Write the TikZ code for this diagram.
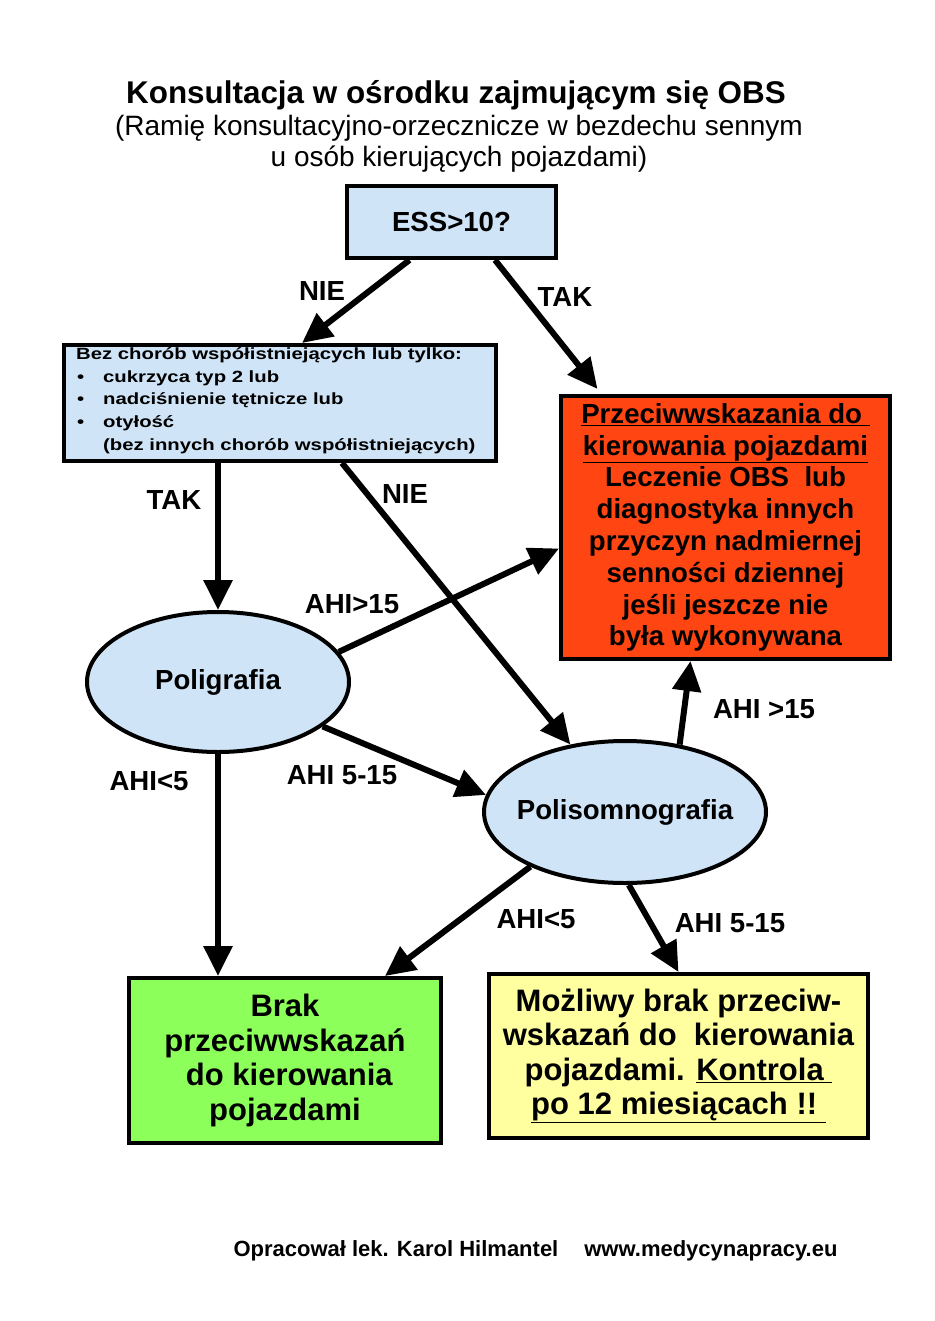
\documentclass[tikz,border=0pt]{standalone}
\usepackage{fontspec}
\setmainfont{Liberation Sans}
\usetikzlibrary{shapes.geometric,arrows.meta}
\definecolor{lblue}{RGB}{207,228,246}
\definecolor{lred}{RGB}{255,69,18}
\definecolor{lgreen}{RGB}{140,255,90}
\definecolor{lyellow}{RGB}{255,255,160}
\tikzset{
  box/.style={draw=black,line width=4pt,inner sep=0pt,align=center,font=\bfseries},
  oval/.style={draw=black,line width=4pt,ellipse,inner sep=0pt,fill=lblue},
  ovaltext/.style={inner sep=0pt,font=\bfseries\fontsize{27.6}{32}\selectfont},
  arr/.style={line width=6pt,-{Triangle[length=30pt,width=28pt]}},
  lab/.style={font=\bfseries\fontsize{27.6}{32}\selectfont,inner sep=0pt}
}
\begin{document}
\begin{tikzpicture}[x=1pt,y=-1pt]
\useasboundingbox[fill=white] (0,0) rectangle (934,1321);
% title
\node[font=\bfseries\fontsize{31.4}{36}\selectfont,inner sep=0pt] (title) at (456,95) {Konsultacja w ośrodku zajmującym się OBS};
\node[font=\fontsize{28}{31}\selectfont,inner sep=0pt,align=center] (sub) at (459,144) {(Ramię konsultacyjno-orzecznicze w bezdechu sennym\\u osób kierujących pojazdami)};
% boxes
\node[box,fill=lblue,minimum width=209pt,minimum height=72pt,font=\bfseries\fontsize{27.6}{32}\selectfont] (ess) at (451.5,222) {ESS>10?};
\node[box,fill=lblue,minimum width=432pt,minimum height=116pt,anchor=north west] (b2) at (62,343) {};
\node[inner sep=0pt,anchor=west] (b2t) at (76,400.5) {\scalebox{1}[0.8]{\parbox{420pt}{\bfseries\fontsize{20.3}{28.4}\selectfont Bez chorób współistniejących lub tylko:\\
\makebox[27pt][l]{\hspace{1pt}•}cukrzyca typ 2 lub\\
\makebox[27pt][l]{\hspace{1pt}•}nadciśnienie tętnicze lub\\
\makebox[27pt][l]{\hspace{1pt}•}otyłość\\
\hspace*{27pt}(bez innych chorób współistniejących)}}};
\node[box,fill=lred,minimum width=329pt,minimum height=263pt,font=\bfseries\fontsize{27.6}{31.8}\selectfont] (red) at (725.5,527.5) {\underline{Przeciwwskazania do\ }\\\underline{kierowania pojazdami}\\Leczenie OBS\ \ lub\\diagnostyka innych\\przyczyn nadmiernej\\senności dziennej\\jeśli jeszcze nie\\była wykonywana};
\node[oval,minimum width=262pt,minimum height=140pt] (poli) at (218,682) {};
\node[ovaltext] (polit) at (poli.center) {Poligrafia};
\node[oval,minimum width=282pt,minimum height=142pt] (psg) at (625,812) {};
\node[ovaltext] (psgt) at (psg.center) {Polisomnografia};
\node[box,fill=lgreen,minimum width=312pt,minimum height=165pt,font=\bfseries\fontsize{31}{34.7}\selectfont] (green) at (285,1060.5) {Brak\\przeciwwskazań\\\ do kierowania\\pojazdami};
\node[box,fill=lyellow,minimum width=379pt,minimum height=164pt,font=\bfseries\fontsize{31}{34.3}\selectfont] (yellow) at (678.5,1056) {Możliwy brak przeciw-\\wskazań do\ \ kierowania\\pojazdami. \underline{Kontrola\ }\\\underline{po 12 miesiącach !!\ }};
% arrows
\draw[arr] ([xshift=-42pt]ess.south) -- ([xshift=22pt]b2.north);
\draw[arr] ([xshift=43.5pt]ess.south) -- ([xshift=-128pt,yshift=5pt]red.north);
\draw[arr] (b2.south -| poli.north) -- (poli.north);
\draw[arr] ([xshift=62pt]b2.south) -- (psg.129);
\draw[arr] (poli.14) -- ([yshift=-21pt]red.west);
\draw[arr] (poli.-23) -- (psg.173);
\draw[arr] (poli.south) -- (poli.south |- green.north);
\draw[arr] (psg.51) -- ([xshift=-35pt]red.south);
\draw[arr] (psg.210) -- ([xshift=100pt]green.north);
\draw[arr] (psg.-87) -- (yellow.north);
% labels
\node[lab] (l1) at (322,291) {NIE};
\node[lab] (l2) at (565,297) {TAK};
\node[lab] (l3) at (174,500) {TAK};
\node[lab] (l4) at (405,494) {NIE};
\node[lab] (l5) at (352,604) {AHI>15};
\node[lab] (l6) at (342,775) {AHI 5-15};
\node[lab] (l7) at (149,781) {AHI<5};
\node[lab] (l8) at (764,709) {AHI >15};
\node[lab] (l9) at (536,919) {AHI<5};
\node[lab] (l10) at (730,923) {AHI 5-15};
% footer
\node[font=\bfseries\fontsize{22}{24}\selectfont,inner sep=0pt] (foot) at (535.5,1251) {Opracował lek. Karol Hilmantel\hspace{26pt}www.medycynapracy.eu};
\end{tikzpicture}
\end{document}
